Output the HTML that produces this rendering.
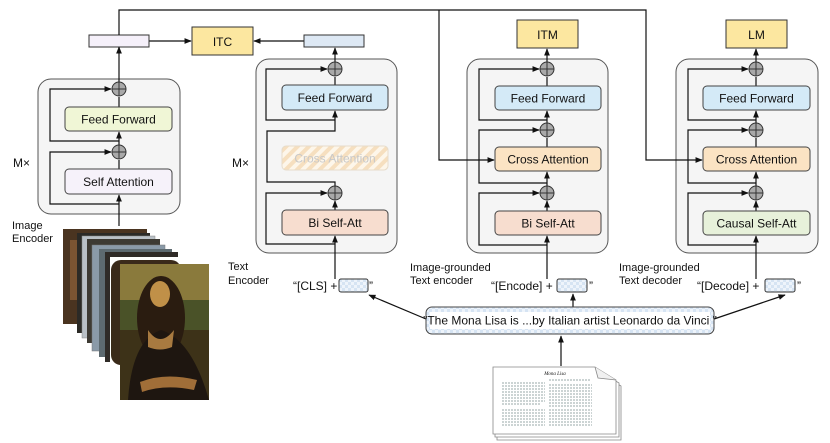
<!DOCTYPE html>
<html><head><meta charset="utf-8"><style>
html,body{margin:0;padding:0;background:#fff;}
svg{display:block;}
text{font-family:"Liberation Sans",sans-serif;fill:#111;}
</style></head><body>
<svg width="830" height="443" viewBox="0 0 830 443" xmlns="http://www.w3.org/2000/svg">
<defs>
<marker id="a" viewBox="0 0 10 10" refX="9" refY="5" markerWidth="6" markerHeight="6" orient="auto-start-reverse"><path d="M0,1 L10,5 L0,9 z" fill="#111"/></marker>
<pattern id="hatch" width="8" height="8" patternUnits="userSpaceOnUse" patternTransform="rotate(45)"><rect width="8" height="8" fill="#fdf6ea"/><rect width="4" height="8" fill="#f6dfbf"/></pattern>
<pattern id="chk" width="6" height="6" patternUnits="userSpaceOnUse"><rect width="6" height="6" fill="#eef4fb"/><rect width="3" height="3" fill="#d6e4f3"/><rect x="3" y="3" width="3" height="3" fill="#d6e4f3"/></pattern>
<g id="plus"><circle r="7" fill="#a9a9a9" stroke="#333" stroke-width="1"/><path d="M-7,0H7M0,-7V7" stroke="#333" stroke-width="1"/></g>
</defs>
<g stroke="#111" stroke-width="1.2" fill="none">
<path d="M149,41 H191" marker-end="url(#a)"/>
<path d="M304,41 H254" marker-end="url(#a)"/>
</g>
<rect x="89" y="35" width="60" height="12" fill="#f5f0fa" stroke="#333"/>
<rect x="304" y="35" width="60" height="12" fill="#dde8f4" stroke="#333"/>
<rect x="192" y="27" width="61" height="28" fill="#fce7a0" stroke="#333"/>
<text x="222.5" y="46" font-size="12" text-anchor="middle">ITC</text>
<rect x="517" y="20" width="61" height="28" fill="#fce7a0" stroke="#333"/>
<text x="547.5" y="39" font-size="12" text-anchor="middle">ITM</text>
<rect x="726" y="20" width="61" height="28" fill="#fce7a0" stroke="#333"/>
<text x="756.5" y="39" font-size="12" text-anchor="middle">LM</text>

<!-- Image encoder -->
<rect x="38" y="79" width="142" height="135" rx="13" fill="#f5f5f5" stroke="#555"/>
<g stroke="#111" stroke-width="1.2" fill="none">
<path d="M119,226 V195" marker-end="url(#a)"/>
<path d="M119,169 V160" />
<path d="M119,145 V132" marker-end="url(#a)"/>
<path d="M119,107 V97"/>
<path d="M119,82 V47" marker-end="url(#a)"/>
<path d="M119,204 H50 V152 H111" marker-end="url(#a)"/>
<path d="M119,141 H50 V89 H111" marker-end="url(#a)"/>
</g>
<use href="#plus" x="119" y="152"/><use href="#plus" x="119" y="89"/>
<rect x="65" y="107" width="107" height="24" rx="4" fill="#f0f6d6" stroke="#444"/>
<text x="118.5" y="123.5" font-size="12" text-anchor="middle">Feed Forward</text>
<rect x="65" y="169" width="107" height="25" rx="4" fill="#f6f2fa" stroke="#444"/>
<text x="118.5" y="186" font-size="12" text-anchor="middle">Self Attention</text>
<text x="13" y="167" font-size="12">M×</text>
<text x="12" y="229" font-size="11">Image</text>
<text x="12" y="242" font-size="11">Encoder</text>

<!-- Text encoder -->
<rect x="256" y="59" width="141" height="194" rx="13" fill="#f5f5f5" stroke="#555"/>
<g stroke="#111" stroke-width="1.2" fill="none">
<path d="M335,279 V236" marker-end="url(#a)"/>
<path d="M335,210 V201" marker-end="url(#a)"/>
<path d="M335,186 V182 H267 V131 H335 V111" marker-end="url(#a)"/>
<path d="M335,85 V77"/>
<path d="M335,62 V48" marker-end="url(#a)"/>
<path d="M335,244 H266 V193 H327" marker-end="url(#a)"/>
<path d="M335,120 H266 V69 H327" marker-end="url(#a)"/>
</g>
<use href="#plus" x="335" y="193"/><use href="#plus" x="335" y="69"/>
<rect x="282" y="85" width="106" height="25" rx="4" fill="#d4eaf7" stroke="#444"/>
<text x="335" y="102" font-size="12" text-anchor="middle">Feed Forward</text>
<rect x="282" y="146" width="106" height="24" rx="4" fill="url(#hatch)" stroke="#e6dccb"/>
<text x="335" y="162.5" font-size="12" text-anchor="middle" style="fill:#c8c8c8">Cross Attention</text>
<rect x="282" y="210" width="106" height="25" rx="4" fill="#f7ddcf" stroke="#444"/>
<text x="335" y="227" font-size="12" text-anchor="middle">Bi Self-Att</text>
<text x="232" y="167" font-size="12">M×</text>
<text x="228" y="270" font-size="11">Text</text>
<text x="228" y="284" font-size="11">Encoder</text>
<text x="293" y="290" font-size="12">“[CLS] +</text>
<rect x="339" y="279" width="29" height="13" rx="2" fill="url(#chk)" stroke="#333"/>
<text x="369" y="290" font-size="12">”</text>

<!-- Image-grounded text encoder -->
<rect x="467" y="59" width="141" height="194" rx="13" fill="#f5f5f5" stroke="#555"/>
<g stroke="#111" stroke-width="1.2" fill="none">
<path d="M547,279 V236" marker-end="url(#a)"/>
<path d="M547,211 V201" marker-end="url(#a)"/>
<path d="M547,186 V172" marker-end="url(#a)"/>
<path d="M547,147 V138"/>
<path d="M547,123 V111" marker-end="url(#a)"/>
<path d="M547,86 V77"/>
<path d="M547,62 V49" marker-end="url(#a)"/>
<path d="M547,245 H479 V193 H539" marker-end="url(#a)"/>
<path d="M547,183 H479 V130 H539" marker-end="url(#a)"/>
<path d="M547,120 H479 V69 H539" marker-end="url(#a)"/>
</g>
<use href="#plus" x="547" y="193"/><use href="#plus" x="547" y="130"/><use href="#plus" x="547" y="69"/>
<rect x="495" y="86" width="106" height="24" rx="4" fill="#d4eaf7" stroke="#444"/>
<text x="548" y="102.5" font-size="12" text-anchor="middle">Feed Forward</text>
<rect x="495" y="147" width="106" height="24" rx="4" fill="#fbe3c3" stroke="#444"/>
<text x="548" y="163.5" font-size="12" text-anchor="middle">Cross Attention</text>
<rect x="495" y="211" width="106" height="24" rx="4" fill="#f7ddcf" stroke="#444"/>
<text x="548" y="227.5" font-size="12" text-anchor="middle">Bi Self-Att</text>
<text x="410" y="271" font-size="11">Image-grounded</text>
<text x="410" y="284" font-size="11">Text encoder</text>
<text x="491" y="290" font-size="12">“[Encode] +</text>
<rect x="557" y="279" width="30" height="13" rx="2" fill="url(#chk)" stroke="#333"/>
<text x="589" y="290" font-size="12">”</text>

<!-- decoder -->
<rect x="676" y="59" width="142" height="194" rx="13" fill="#f5f5f5" stroke="#555"/>
<g stroke="#111" stroke-width="1.2" fill="none">
<path d="M756,279 V236" marker-end="url(#a)"/>
<path d="M756,211 V201" marker-end="url(#a)"/>
<path d="M756,186 V172" marker-end="url(#a)"/>
<path d="M756,147 V138"/>
<path d="M756,123 V111" marker-end="url(#a)"/>
<path d="M756,86 V77"/>
<path d="M756,62 V49" marker-end="url(#a)"/>
<path d="M756,245 H688 V193 H748" marker-end="url(#a)"/>
<path d="M756,183 H688 V130 H748" marker-end="url(#a)"/>
<path d="M756,120 H688 V69 H748" marker-end="url(#a)"/>
</g>
<use href="#plus" x="756" y="193"/><use href="#plus" x="756" y="130"/><use href="#plus" x="756" y="69"/>
<rect x="703" y="86" width="107" height="24" rx="4" fill="#d4eaf7" stroke="#444"/>
<text x="756.5" y="102.5" font-size="12" text-anchor="middle">Feed Forward</text>
<rect x="703" y="147" width="107" height="24" rx="4" fill="#fbe3c3" stroke="#444"/>
<text x="756.5" y="163.5" font-size="12" text-anchor="middle">Cross Attention</text>
<rect x="703" y="211" width="107" height="24" rx="4" fill="#e7f1da" stroke="#444"/>
<text x="756.5" y="227.5" font-size="12" text-anchor="middle">Causal Self-Att</text>
<text x="619" y="271" font-size="11">Image-grounded</text>
<text x="619" y="284" font-size="11">Text decoder</text>
<text x="697" y="290" font-size="12">“[Decode] +</text>
<rect x="765" y="279" width="30" height="13" rx="2" fill="url(#chk)" stroke="#333"/>
<text x="797" y="290" font-size="12">”</text>

<!-- top connectors (drawn over blocks) -->
<g stroke="#111" stroke-width="1.2" fill="none">
<path d="M119,35 V10 H646 V160 H702" marker-end="url(#a)"/>
<path d="M439,10 V160 H494" marker-end="url(#a)"/>
</g>

<!-- caption box -->
<g stroke="#111" stroke-width="1.2" fill="none">
<path d="M426,319 L369,295" marker-end="url(#a)"/>
<path d="M573,307 V294" marker-end="url(#a)"/>
<path d="M714,319 L785,295" marker-end="url(#a)"/>
<path d="M561,366 V336" marker-end="url(#a)"/>
</g>
<rect x="426" y="307" width="288" height="27" rx="6" fill="url(#chk)" stroke="#444"/>
<rect x="430" y="312" width="280" height="17" fill="#fff"/>
<text x="570" y="324.5" font-size="12" text-anchor="middle">"The Mona Lisa is ...by Italian artist Leonardo da Vinci "</text>

<!-- document -->
<g stroke="#888" stroke-width="0.8">
<path d="M497,374 H601 L621,386 V440 H497 Z" fill="#fff"/>
<path d="M495,371 H599 L619,383 V437 H495 Z" fill="#fff"/>
<path d="M493,367 H595 L616,380 V434 H493 Z" fill="#fff"/>
<path d="M595,367 L598,378 L616,380" fill="#f0f0f0"/>
</g>
<text x="555" y="375" font-size="5" font-style="italic" text-anchor="middle" style="font-family:'Liberation Serif',serif">Mona Lisa</text>
<g stroke="#9aa" stroke-width="1.1" stroke-dasharray="2,1">
<path d="M502,383H545M502,386H545M502,389H545M502,392H545M502,395H545M502,398H545M502,401H545M502,404H540M502,410H545M502,413H545M502,416H545M502,419H545M502,422H545M502,425H545"/>
<path d="M549,380H590M549,385H592M549,388H592M549,391H592M549,394H592M549,397H592M549,400H592M549,403H592M549,406H592M549,410H592M549,413H592M549,416H592M549,419H592M549,422H592M549,425H592"/>
</g>

<!-- image stack -->
<rect x="63" y="229" width="84" height="95" fill="#4a3420"/>
<rect x="70" y="240" width="20" height="60" fill="#7a5432"/>
<rect x="77" y="233" width="73" height="100" fill="#2b2a26"/>
<rect x="82" y="236" width="73" height="102" fill="#b9c0c6" stroke="#888" stroke-width="0.5"/>
<rect x="87" y="239" width="73" height="104" fill="#3d3a33"/>
<rect x="92" y="245" width="73" height="106" fill="#8a9aa8" stroke="#777" stroke-width="0.5"/>
<rect x="99" y="249" width="73" height="108" fill="#5d6a70"/>
<rect x="105" y="252" width="73" height="110" fill="#2f2b27"/>
<rect x="110" y="257" width="70" height="108" fill="#fff"/>
<rect x="111" y="260" width="70" height="105" rx="10" fill="#3a2a1a"/>
<rect x="120" y="264" width="89" height="136" fill="#3d3218"/>
<rect x="120" y="264" width="89" height="40" fill="#8a7a3c"/>
<rect x="120" y="300" width="89" height="30" fill="#4a5228"/>
<ellipse cx="161" cy="318" rx="24" ry="42" fill="#2a1c10"/>
<ellipse cx="160" cy="294" rx="10" ry="13" fill="#c09048"/>
<path d="M128,400 Q132,340 161,330 Q192,340 209,400 Z" fill="#1e1610"/>
<path d="M148,330 Q160,348 174,330 L172,347 Q160,352 148,347 Z" fill="#a87a40"/>
<path d="M140,382 Q165,372 197,380 L194,390 Q165,384 142,392 Z" fill="#a06e38"/>
</svg>
</body></html>
